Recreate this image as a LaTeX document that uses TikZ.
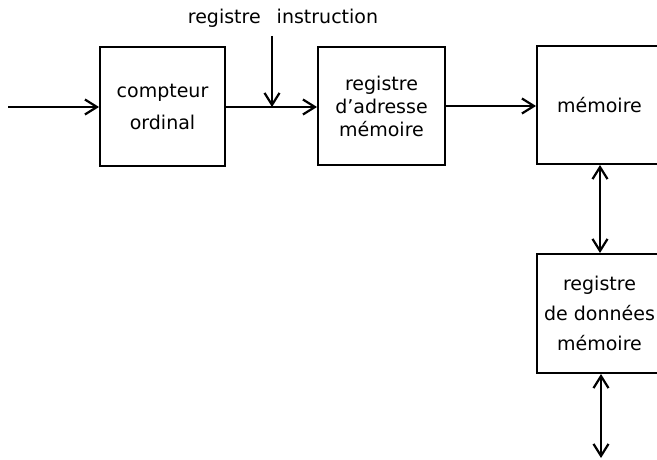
\documentclass[tikz,border=0pt]{standalone}
\usepackage{fontspec}
\setmainfont{DejaVu Sans}
\usetikzlibrary{arrows.meta}

\tikzset{
  regbox/.style={draw, line width=2pt, rectangle, inner sep=0pt, align=center,
                 font=\fontsize{19}{23}\selectfont},
  barb/.tip={Straight Barb[length=12pt,width=15pt,line width=2.2pt]},
  flow/.style={line width=2.6pt, -barb},
  dflow/.style={line width=2.6pt, barb-barb},
  lbl/.style={font=\fontsize{19}{23}\selectfont, inner sep=0pt}
}

\begin{document}
\begin{tikzpicture}[x=1pt, y=-1pt]
  \clip (0,0) rectangle (657,460);
  \fill[white] (0,0) rectangle (657,460);

  % registers and memory
  \node[regbox, minimum width=125pt, minimum height=119pt,
        font=\fontsize{19}{32}\selectfont] (cpt) at (162.5,106.5) {compteur\\ordinal};
  \node[regbox, minimum width=127pt, minimum height=118pt,
        font=\fontsize{19}{23}\selectfont] (adr) at (381.5,106) {registre\\d'adresse\\mémoire};
  \node[regbox, minimum width=125pt, minimum height=118pt] (mem) at (599.5,105) {mémoire};
  \node[regbox, minimum width=125pt, minimum height=119pt,
        font=\fontsize{19}{30}\selectfont] (rdm) at (599.5,313.5) {registre\\de données\\mémoire};

  % label of the incoming instruction register
  \node[lbl] (ri) at (283,18) {registre\hspace{16pt}instruction};

  % connectors
  \coordinate (in) at (8,107);
  \coordinate (ritop) at (272,36);
  \coordinate (jct) at (272,107);
  \coordinate (bus) at (601,458);

  \draw[flow] (in) -- (in -| cpt.west);
  \draw[line width=2.6pt] (cpt.east |- jct) -- (jct);
  \draw[flow] (jct) -- (jct -| adr.west);
  \draw[flow] (ritop) -- (jct);
  \draw[flow] (adr.east |- 0,106) -- (mem.west |- 0,106);
  \draw[dflow] (mem.south -| 600,0) -- (rdm.north -| 600,0);
  \draw[dflow] (rdm.south -| bus) -- (bus);
\end{tikzpicture}
\end{document}
